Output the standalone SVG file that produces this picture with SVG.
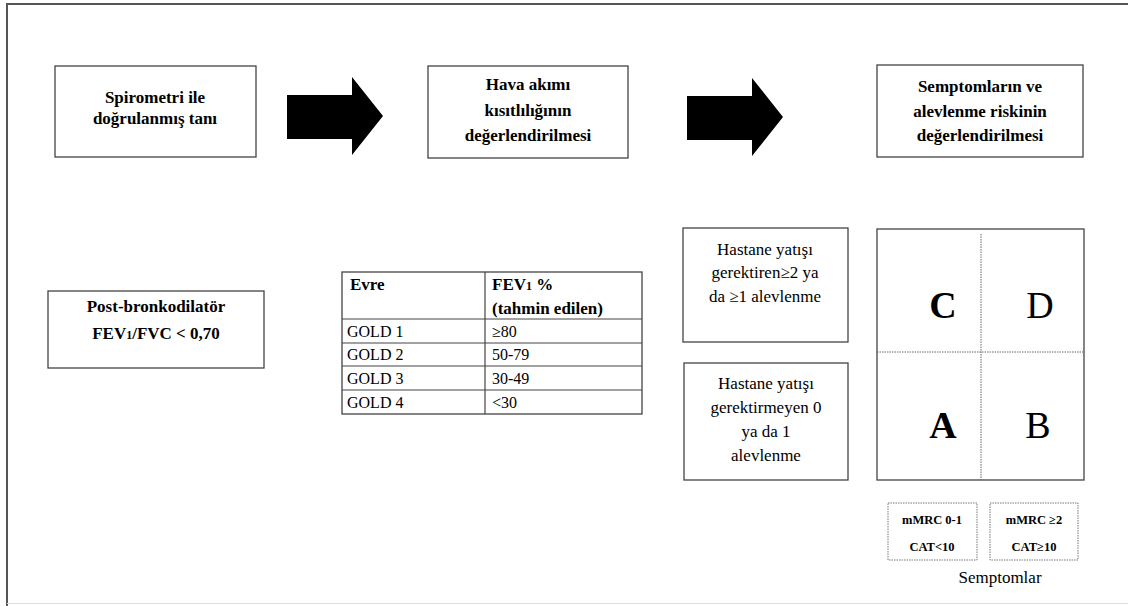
<svg xmlns="http://www.w3.org/2000/svg" width="1128" height="606" viewBox="0 0 1128 606">
  <defs>
    <style>
      .box { fill: #fff; stroke: #444; stroke-width: 1.3; }
      .dot { fill: none; stroke: #777; stroke-width: 1; stroke-dasharray: 1.5 1; }
      .grid { stroke: #666; stroke-width: 1; stroke-dasharray: 1.5 1; }
      .tl { stroke: #444; stroke-width: 1.2; }
      text { font-family: "Liberation Serif", "DejaVu Serif", Times, serif; fill: #000; }
      .b { font-weight: bold; font-size: 17px; }
      .r { font-size: 17px; }
      .t { font-size: 16px; }
      .s { font-weight: bold; font-size: 12.5px; }
      .big { font-size: 38px; }
      .mid { text-anchor: middle; }
    </style>
    <path id="fat-arrow" d="M0,18 H65 V0 L96,39 L65,78 V62 H0 Z" fill="#000"/>
  </defs>

  <!-- page frame -->
  <path d="M7,606 V4 H1128" fill="none" stroke="#555" stroke-width="2"/>
  <line x1="7" y1="603.5" x2="1128" y2="603.5" stroke="#ddd" stroke-width="1"/>

  <g id="connectors">
    <use href="#fat-arrow" x="287" y="77"/>
    <use href="#fat-arrow" x="687" y="78"/>
  </g>

  <g id="spirometri">
    <rect class="box" x="55" y="66" width="201" height="91"/>
    <text class="b mid" x="155" y="103">Spirometri ile</text>
    <text class="b mid" x="155" y="124">doğrulanmış tanı</text>
  </g>

  <g id="hava-akimi">
    <rect class="box" x="428" y="66" width="200" height="92"/>
    <text class="b mid" x="528" y="90">Hava akımı</text>
    <text class="b mid" x="528" y="116">kısıtlılığının</text>
    <text class="b mid" x="528" y="141">değerlendirilmesi</text>
  </g>

  <g id="semptom-risk">
    <rect class="box" x="877" y="65" width="206" height="92"/>
    <text class="b mid" x="980" y="92">Semptomların ve</text>
    <text class="b mid" x="980" y="117">alevlenme riskinin</text>
    <text class="b mid" x="980" y="141">değerlendirilmesi</text>
  </g>

  <g id="post-bronkodilator">
    <rect class="box" x="48" y="291" width="216" height="77"/>
    <text class="b mid" x="156" y="312">Post-bronkodilatör</text>
    <text class="b mid" x="156" y="339">FEV<tspan font-size="12">1</tspan>/FVC &lt; 0,70</text>
  </g>

  <g id="gold-table">
    <rect class="box" x="342" y="272" width="300" height="142"/>
    <line class="tl" x1="485" y1="272" x2="485" y2="414"/>
    <line class="tl" x1="342" y1="319" x2="642" y2="319"/>
    <line class="tl" x1="342" y1="343" x2="642" y2="343"/>
    <line class="tl" x1="342" y1="366" x2="642" y2="366"/>
    <line class="tl" x1="342" y1="390" x2="642" y2="390"/>
    <text class="b" x="350" y="290" font-size="16">Evre</text>
    <text class="b" x="492" y="290" font-size="16">FEV<tspan font-size="12">1</tspan> %</text>
    <text class="b" x="492" y="314" font-size="16">(tahmin edilen)</text>
    <text class="t" x="347" y="337">GOLD 1</text>
    <text class="t" x="492" y="337">≥80</text>
    <text class="t" x="347" y="360">GOLD 2</text>
    <text class="t" x="492" y="360">50-79</text>
    <text class="t" x="347" y="384">GOLD 3</text>
    <text class="t" x="492" y="384">30-49</text>
    <text class="t" x="347" y="408">GOLD 4</text>
    <text class="t" x="492" y="408">&lt;30</text>
  </g>

  <g id="alevlenme-yuksek">
    <rect class="box" x="683" y="228" width="165" height="114"/>
    <text class="r mid" x="765" y="255">Hastane yatışı</text>
    <text class="r mid" x="765" y="278">gerektiren≥2 ya</text>
    <text class="r mid" x="765" y="302">da ≥1 alevlenme</text>
  </g>

  <g id="alevlenme-dusuk">
    <rect class="box" x="684" y="363" width="164" height="117"/>
    <text class="r mid" x="766" y="389">Hastane yatışı</text>
    <text class="r mid" x="766" y="413">gerektirmeyen 0</text>
    <text class="r mid" x="766" y="437">ya da 1</text>
    <text class="r mid" x="766" y="461">alevlenme</text>
  </g>

  <g id="abcd-grid">
    <rect class="box" x="877" y="229" width="207" height="251"/>
    <line class="grid" x1="981" y1="234" x2="981" y2="480"/>
    <line class="grid" x1="877" y1="352" x2="1084" y2="352"/>
    <text class="big mid" x="943" y="318" font-weight="bold">C</text>
    <text class="big mid" x="1040" y="318">D</text>
    <text class="big mid" x="943" y="438" font-weight="bold">A</text>
    <text class="big mid" x="1038" y="438">B</text>
  </g>

  <g id="mmrc-low">
    <rect class="dot" x="888" y="503" width="89" height="57"/>
    <text class="s mid" x="932" y="524">mMRC 0-1</text>
    <text class="s mid" x="932" y="551">CAT&lt;10</text>
  </g>

  <g id="mmrc-high">
    <rect class="dot" x="990" y="503" width="88" height="57"/>
    <text class="s mid" x="1034" y="524">mMRC ≥2</text>
    <text class="s mid" x="1034" y="551">CAT≥10</text>
  </g>

  <text id="semptomlar" class="r mid" x="1000" y="583" font-size="13">Semptomlar</text>
</svg>
